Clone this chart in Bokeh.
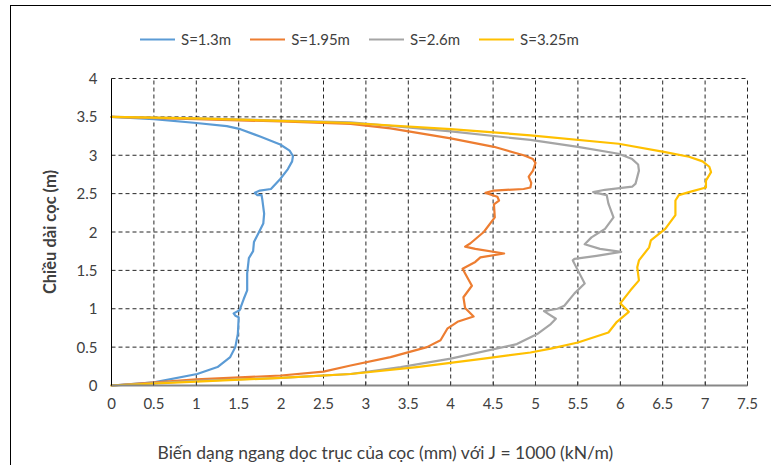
from bokeh.plotting import figure
from bokeh.models import (Range1d, FixedTicker, NumeralTickFormatter, Legend,
                          LegendItem, Label)
from bokeh.embed import file_html
from bokeh.resources import INLINE

# Lateral deflection (mm) against depth along the pile (m), J = 1000 kN/m
blue_x = [0, 0.5, 1.0, 1.36, 1.52, 1.76, 1.99, 2.10, 2.14, 2.13, 2.08, 1.99,
          1.88, 1.75, 1.69, 1.72, 1.77, 1.78, 1.80, 1.79, 1.74, 1.68, 1.67,
          1.62, 1.60, 1.60, 1.56, 1.51, 1.44, 1.46, 1.50, 1.49, 1.46, 1.40,
          1.25, 1.01, 0.5, 0]
blue_y = [3.5, 3.47, 3.42, 3.38, 3.34, 3.24, 3.14, 3.06, 2.99, 2.92, 2.82,
          2.69, 2.56, 2.54, 2.51, 2.48, 2.48, 2.41, 2.24, 2.11, 2.00, 1.87,
          1.75, 1.66, 1.46, 1.24, 1.13, 0.98, 0.94, 0.91, 0.89, 0.67, 0.50,
          0.37, 0.24, 0.15, 0.04, 0]

orange_x = [0, 1.0, 2.0, 2.82, 3.29, 4.0, 4.51, 4.86, 4.97, 5.0, 4.97, 4.92,
            4.95, 4.94, 4.86, 4.51, 4.41, 4.55, 4.57, 4.51, 4.52, 4.39, 4.23,
            4.17, 4.29, 4.63, 4.35, 4.29, 4.14, 4.17, 4.25, 4.15, 4.17, 4.27,
            4.08, 3.96, 3.88, 3.72, 3.29, 2.82, 2.5, 2.0, 1.0, 0]
orange_y = [3.5, 3.47, 3.44, 3.41, 3.35, 3.22, 3.11, 3.00, 2.95, 2.90, 2.80,
            2.72, 2.64, 2.58, 2.56, 2.54, 2.51, 2.46, 2.41, 2.36, 2.19, 2.00,
            1.85, 1.81, 1.78, 1.72, 1.67, 1.61, 1.52, 1.46, 1.30, 1.15, 1.01,
            0.90, 0.83, 0.74, 0.59, 0.50, 0.37, 0.26, 0.18, 0.13, 0.08, 0]

gray_x = [0, 1.0, 2.82, 4.0, 4.94, 5.50, 5.98, 6.14, 6.21, 6.22, 6.18, 6.14,
          5.82, 5.68, 5.84, 5.86, 5.92, 5.82, 5.66, 5.58, 5.76, 6.01, 5.72,
          5.46, 5.44, 5.50, 5.58, 5.46, 5.34, 5.26, 5.10, 5.24, 5.18, 5.02,
          4.78, 4.0, 3.41, 2.82, 2.0, 1.0, 0]
gray_y = [3.5, 3.48, 3.43, 3.31, 3.20, 3.11, 3.02, 2.95, 2.88, 2.80, 2.63,
          2.59, 2.55, 2.52, 2.48, 2.37, 2.19, 2.04, 1.93, 1.84, 1.78, 1.74,
          1.69, 1.65, 1.63, 1.50, 1.33, 1.20, 1.04, 1.00, 0.97, 0.87, 0.80,
          0.67, 0.54, 0.35, 0.24, 0.15, 0.10, 0.06, 0]

yellow_x = [0, 1.0, 2.82, 4.0, 4.94, 5.98, 6.53, 6.81, 6.97, 7.05, 7.07, 7.01,
            7.01, 6.81, 6.69, 6.65, 6.65, 6.53, 6.36, 6.34, 6.22, 6.20, 6.22,
            6.12, 6.00, 6.10, 5.96, 5.86, 5.50, 5.18, 4.94, 4.39, 3.60, 2.82,
            2.0, 1.0, 0]
yellow_y = [3.5, 3.48, 3.42, 3.34, 3.26, 3.15, 3.04, 2.98, 2.92, 2.85, 2.78,
            2.67, 2.58, 2.52, 2.48, 2.41, 2.22, 2.04, 1.89, 1.80, 1.63, 1.54,
            1.37, 1.24, 1.07, 0.96, 0.83, 0.69, 0.56, 0.48, 0.43, 0.35, 0.24,
            0.15, 0.10, 0.05, 0]

series_names = ["S=1.3m", "S=1.95m", "S=2.6m", "S=3.25m"]
series_colors = ["#5B9BD5", "#ED7D31", "#A5A5A5", "#FFC000"]
x_ticks = [0, 0.5, 1, 1.5, 2, 2.5, 3, 3.5, 4, 4.5, 5, 5.5, 6, 6.5, 7, 7.5]
y_ticks = [0, 0.5, 1, 1.5, 2, 2.5, 3, 3.5, 4]

x_title = "Biến dạng ngang dọc trục của cọc (mm) với J = 1000 (kN/m)"
y_title = "Chiều dài cọc (m)"

FONT = "Lato"
TEXT = "#404040"

# The frame fills the whole canvas; both axes are pinned at 0 and bounded to
# the tick span, and the dashed grid covers only 0..7.5 x 0..4.
PX_X = 84.8                  # px per mm
PX_Y = 76.75                 # px per m
X_MAX = x_ticks[-1]
Y_TOP = y_ticks[-1]
PAD_LEFT, PAD_RIGHT = 111 / PX_X, 24 / PX_X
PAD_TOP, PAD_BOTTOM = 78 / PX_Y, 80 / PX_Y

p = figure(width=771, height=465,
           x_range=Range1d(-PAD_LEFT, X_MAX + PAD_RIGHT),
           y_range=Range1d(-PAD_BOTTOM, Y_TOP + PAD_TOP),
           output_backend="svg", toolbar_location=None,
           min_border_left=0, min_border_right=0,
           min_border_top=0, min_border_bottom=0)
p.outline_line_color = None
p.background_fill_color = None
p.border_fill_color = None
p.xgrid.visible = False
p.ygrid.visible = False
# white page with a thin frame line round the chart area (left and top edges)
p.styles = {
    "background": ("linear-gradient(#000, #000) 10px 5px / 1px 100% no-repeat, "
                   "linear-gradient(#000, #000) 10px 5px / 100% 1px no-repeat, "
                   "#fff"),
}

# dashed grid on every tick, inside the 0..7.5 x 0..4 box
grid_kw = dict(line_color="black", line_dash="4 3", line_width=1, line_alpha=0.85)
p.segment(x0=x_ticks[1:], y0=[y_ticks[0]] * (len(x_ticks) - 1),
          x1=x_ticks[1:], y1=[Y_TOP] * (len(x_ticks) - 1), **grid_kw)
p.segment(x0=[x_ticks[0]] * (len(y_ticks) - 1), y0=y_ticks[1:],
          x1=[X_MAX] * (len(y_ticks) - 1), y1=y_ticks[1:], **grid_kw)

xa = p.xaxis[0]
xa.fixed_location = 0
xa.bounds = (0, X_MAX)
xa.ticker = FixedTicker(ticks=x_ticks)
xa.formatter = NumeralTickFormatter(format="0.[0]")
xa.axis_line_color = "#878787"
xa.axis_line_width = 2
xa.major_tick_in = 4
xa.major_tick_out = 0
xa.major_tick_line_color = "#404040"
xa.minor_tick_line_color = None
xa.major_label_text_font = FONT
xa.major_label_text_font_size = "15px"
xa.major_label_text_color = TEXT
xa.major_label_standoff = 12

ya = p.yaxis[0]
ya.fixed_location = 0
ya.bounds = (0, Y_TOP)
ya.ticker = FixedTicker(ticks=y_ticks)
ya.formatter = NumeralTickFormatter(format="0.[0]")
ya.axis_line_color = "black"
ya.axis_line_width = 1
ya.major_tick_in = 0
ya.major_tick_out = 0
ya.minor_tick_line_color = None
ya.major_label_text_font = FONT
ya.major_label_text_font_size = "15px"
ya.major_label_text_color = TEXT
ya.major_label_standoff = 14
ya.axis_label = y_title
ya.axis_label_text_font = FONT
ya.axis_label_text_font_size = "16.5px"
ya.axis_label_text_font_style = "bold"
ya.axis_label_text_color = TEXT
ya.axis_label_standoff = 14

# x axis title in the footer band, a little left of the plot centre
p.add_layout(Label(x=46 / PX_X, y=-67 / PX_Y, text=x_title,
                   text_align="left", text_baseline="middle",
                   text_font=FONT, text_font_size="17.5px",
                   text_color=TEXT))

renderers = []
for xs, ys, color in zip([blue_x, orange_x, gray_x, yellow_x],
                         [blue_y, orange_y, gray_y, yellow_y],
                         series_colors):
    r = p.line(xs, ys, line_color=color, line_width=2.2,
               line_join="round", line_cap="round")
    renderers.append(r)

legend = Legend(items=[LegendItem(label=n, renderers=[r])
                       for n, r in zip(series_names, renderers)],
                orientation="horizontal", location=(140, 417),
                glyph_width=35, glyph_height=14, label_standoff=6,
                spacing=19, padding=0, margin=0,
                label_text_font=FONT, label_text_font_size="15px",
                label_text_color=TEXT, border_line_color=None,
                background_fill_alpha=0)
p.add_layout(legend)

open("out.html", "w").write(file_html(p, INLINE))
